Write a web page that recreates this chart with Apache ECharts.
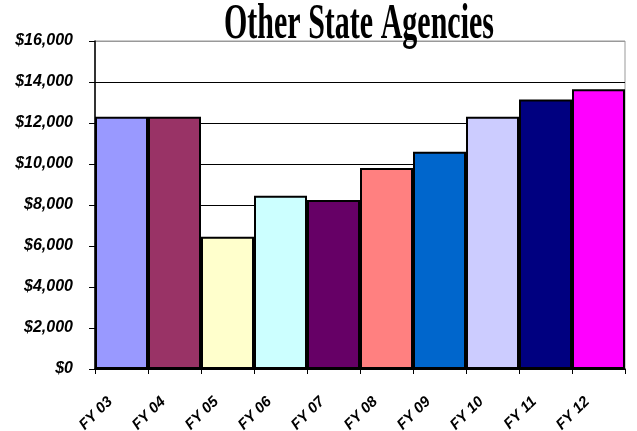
<!DOCTYPE html>
<html>
<head>
<meta charset="utf-8">
<script src="https://cdn.jsdelivr.net/npm/echarts@6/dist/echarts.min.js"></script>
<style>
  html, body { margin: 0; padding: 0; background: #fff; }
  #chart { width: 637px; height: 431px; }
</style>
</head>
<body>
<div id="chart"></div>
<script>
// fiscal years and amounts
const years = ['FY 03', 'FY 04', 'FY 05', 'FY 06', 'FY 07', 'FY 08', 'FY 09', 'FY 10', 'FY 11', 'FY 12'];
const amounts = [12300, 12300, 6450, 8450, 8250, 9800, 10600, 12300, 13150, 13650];
const barColors = ['#9999ff', '#993366', '#ffffcc', '#ccffff', '#660066', '#ff8080', '#0066cc', '#ccccff', '#000080', '#ff00ff'];

const chart = echarts.init(document.getElementById('chart'));

chart.setOption({
  animation: false,
  graphic: [
    {
      type: 'text',
      x: 359,
      y: 25,
      scaleX: 0.6,
      style: {
        text: 'Other State Agencies',
        font: 'bold 50px "Liberation Serif"',
        fill: '#000',
        textAlign: 'center',
        textVerticalAlign: 'middle'
      },
      z: 100
    }
  ],
  grid: {
    left: 95,
    right: 12,
    top: 41,
    bottom: 62,
    containLabel: false,
    outerBoundsMode: 'none',
    show: true,
    borderColor: '#999',
    borderWidth: 1
  },
  xAxis: {
    type: 'category',
    data: years,
    axisLine: { lineStyle: { color: '#000', width: 1.5 } },
    axisTick: { show: true, length: 5, lineStyle: { color: '#000' } },
    axisLabel: {
      rotate: 45,
      interval: 0,
      margin: 19,
      padding: [0, 16, 0, 0],
      color: '#000',
      fontFamily: 'Liberation Sans',
      fontWeight: 'bold',
      fontStyle: 'italic',
      fontSize: 15
    }
  },
  yAxis: {
    type: 'value',
    min: 0,
    max: 16000,
    interval: 2000,
    axisLine: { show: true, lineStyle: { color: '#000', width: 1.5 } },
    axisTick: { show: true, length: 6, lineStyle: { color: '#000' } },
    splitLine: {
      show: true,
      lineStyle: { color: ['#000', '#000', '#000', '#000', '#000', '#000', '#000', '#000', '#999'], width: 1 }
    },
    axisLabel: {
      margin: 22,
      color: '#000',
      fontFamily: 'Liberation Sans',
      fontWeight: 'bold',
      fontStyle: 'italic',
      fontSize: 16,
      formatter: v => '$' + v.toLocaleString('en-US')
    }
  },
  series: [
    {
      type: 'bar',
      barCategoryGap: 0,
      data: amounts.map((v, i) => ({ value: v, itemStyle: { color: barColors[i] } })),
      itemStyle: { borderColor: '#000', borderWidth: 2 }
    }
  ]
});
</script>
</body>
</html>
